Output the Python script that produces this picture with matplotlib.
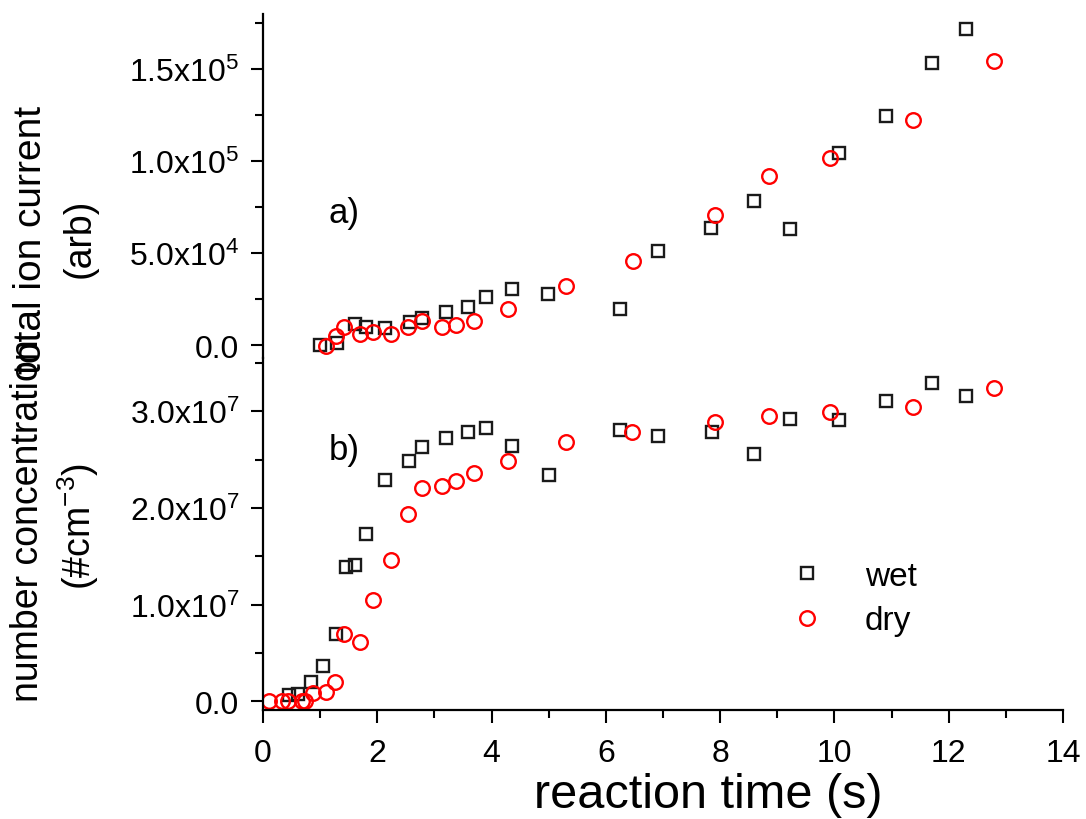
import matplotlib
matplotlib.use("Agg")
import matplotlib.pyplot as plt
from matplotlib.ticker import FixedLocator, MultipleLocator

plt.rcParams["font.family"] = ["Liberation Sans", "DejaVu Sans"]
plt.rcParams["mathtext.fontset"] = "custom"
plt.rcParams["mathtext.rm"] = "Liberation Sans"
plt.rcParams["mathtext.it"] = "Liberation Sans:italic"
plt.rcParams["mathtext.bf"] = "Liberation Sans:bold"

# a) total ion current (arb)
wet_t_a = [1.00, 1.29, 1.61, 1.80, 2.14, 2.57, 2.78, 3.21, 3.58, 3.91, 4.35, 4.99,
           6.25, 6.92, 7.84, 8.59, 9.22, 10.08, 10.90, 11.70, 12.30]
wet_a = [0, 900, 11400, 9800, 9200, 12700, 15000, 17800, 20500, 26300, 30400, 27700,
         19900, 50900, 63600, 78600, 63200, 104200, 124300, 153300, 171700]
dry_t_a = [1.10, 1.27, 1.41, 1.69, 1.93, 2.24, 2.53, 2.79, 3.13, 3.37, 3.69, 4.28,
           5.31, 6.47, 7.91, 8.86, 9.92, 11.37, 12.80]
dry_a = [-300, 4700, 9600, 6000, 6900, 6300, 9900, 13200, 9600, 11000, 13200, 19600,
         32300, 45500, 70800, 92000, 101500, 122500, 154700]

# b) number concentration (#cm-3), in units of 1e7
wet_t_b = [0.45, 0.61, 0.84, 1.05, 1.27, 1.45, 1.61, 1.80, 2.14, 2.56, 2.79, 3.21, 3.58,
           3.91, 4.36, 5.00, 6.25, 6.92, 7.85, 8.59, 9.22, 10.08, 10.90, 11.70, 12.30]
wet_b = [0.06, 0.08, 0.20, 0.37, 0.70, 1.386, 1.41, 1.73, 2.29, 2.49, 2.63, 2.72, 2.78,
         2.83, 2.64, 2.34, 2.81, 2.74, 2.78, 2.56, 2.92, 2.91, 3.105, 3.29, 3.16]
dry_t_b = [0.105, 0.33, 0.44, 0.68, 0.74, 0.88, 1.10, 1.26, 1.41, 1.69, 1.93, 2.24, 2.53,
           2.79, 3.13, 3.37, 3.69, 4.28, 5.31, 6.46, 7.91, 8.86, 9.92, 11.37, 12.80]
dry_b = [0.0, 0.0, 0.0, 0.0, 0.0, 0.083, 0.096, 0.20, 0.70, 0.61, 1.05, 1.46, 1.94,
         2.21, 2.23, 2.28, 2.36, 2.48, 2.68, 2.78, 2.89, 2.95, 2.99, 3.04, 3.24]

top_ticks = [0, 5e4, 1e5, 1.5e5]
top_labels = ["0.0", r"5.0x$10^{4}$", r"1.0x$10^{5}$", r"1.5x$10^{5}$"]
bot_ticks = [0, 1e7, 2e7, 3e7]
bot_labels = ["0.0", r"1.0x$10^{7}$", r"2.0x$10^{7}$", r"3.0x$10^{7}$"]

W, H = 1086, 820
fig = plt.figure(figsize=(W / 100, H / 100), dpi=100)
ax_b = fig.add_axes([263 / W, 1 - 711 / H, 800 / W, 352 / H])
ax_t = fig.add_axes([263 / W, 1 - 359 / H, 800 / W, 344 / H])

sq = dict(ls="none", marker="s", ms=9.2, mfc="none", mec="#1a1a1a", mew=1.7)
ci = dict(ls="none", marker="o", ms=10.5, mfc="none", mec="#ff0000", mew=1.7)

ax_t.plot(wet_t_a, wet_a, **sq)
ax_t.plot(dry_t_a, dry_a, **ci)
ax_b.plot(wet_t_b, [v * 1e7 for v in wet_b], label="wet", **sq)
ax_b.plot(dry_t_b, [v * 1e7 for v in dry_b], label="dry", **ci)

for ax in (ax_t, ax_b):
    ax.set_xlim(0, 14)
    ax.patch.set_alpha(0)
    for s in ("top", "right"):
        ax.spines[s].set_visible(False)
    ax.spines["left"].set_linewidth(1.6)
    ax.spines["bottom"].set_linewidth(1.6)
    ax.tick_params(which="major", direction="out", length=9, width=1.5, labelsize=23)
    ax.tick_params(which="minor", direction="out", length=6, width=1.5)
    ax.tick_params(axis="y", pad=8)

ax_t.set_ylim(-7000, 1.8e5)
ax_t.spines["bottom"].set_visible(False)
ax_t.tick_params(axis="x", which="both", bottom=False, labelbottom=False)
ax_t.yaxis.set_major_locator(FixedLocator(top_ticks))
ax_t.set_yticklabels(top_labels)
ax_t.yaxis.set_minor_locator(MultipleLocator(2.5e4))

ax_b.set_ylim(-0.09e7, 3.55e7)
ax_b.yaxis.set_major_locator(FixedLocator(bot_ticks))
ax_b.set_yticklabels(bot_labels)
ax_b.yaxis.set_minor_locator(MultipleLocator(0.5e7))
ax_b.xaxis.set_major_locator(MultipleLocator(2))
ax_b.xaxis.set_minor_locator(MultipleLocator(1))
ax_b.tick_params(axis="x", pad=11)

ax_b.set_xlabel("reaction time (s)", fontsize=35)
ax_b.xaxis.set_label_coords(0.556, -0.175)

ax_t.text(1.42, 7.2e4, "a)", fontsize=25, ha="center", va="center")
ax_b.text(1.43, 2.6e7, "b)", fontsize=25, ha="center", va="center")

# the two y titles overlap a little in the original figure
fig.text(31 / W, 1 - 240 / H, "total ion current", rotation=90, fontsize=28,
         ha="center", va="center")
fig.text(80 / W, 1 - 238 / H, "(arb)", rotation=90, fontsize=27,
         ha="center", va="center")
fig.text(28 / W, 1 - 521 / H, "number concentration", rotation=90, fontsize=27,
         ha="center", va="center")
fig.text(78 / W, 1 - 527 / H, r"(#cm$^{-3}$)", rotation=90, fontsize=27,
         ha="center", va="center")

ax_b.legend(loc="upper left", bbox_to_anchor=(790 / W, 1 - 562 / H),
            bbox_transform=fig.transFigure, frameon=False, fontsize=24,
            borderpad=0, borderaxespad=0, handlelength=1.0, handletextpad=1.25,
            labelspacing=0.4)

fig.savefig("out.png", dpi=100)
